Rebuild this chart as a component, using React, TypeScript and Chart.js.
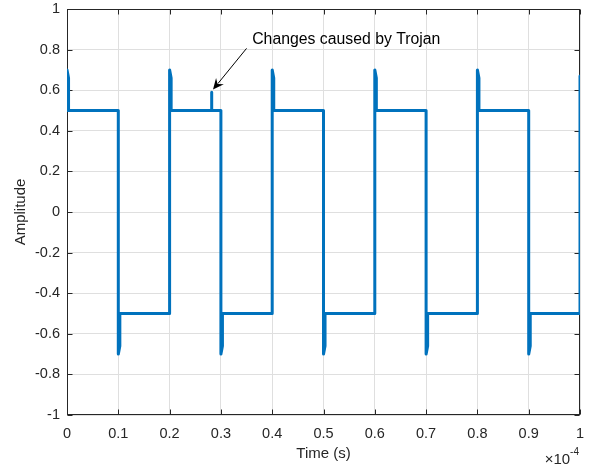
import React, { useEffect, useRef } from 'react';
import { Chart, registerables } from 'chart.js';

Chart.register(...registerables);

// Time values in units of 1e-4 s
const timeValues = [
  0, 0, 0.003, 0.003,
  0.1, 0.1, 0.103, 0.103,
  0.2, 0.2, 0.203, 0.203,
  0.282, 0.282, 0.2821,
  0.3, 0.3, 0.303, 0.303,
  0.4, 0.4, 0.403, 0.403,
  0.5, 0.5, 0.503, 0.503,
  0.6, 0.6, 0.603, 0.603,
  0.7, 0.7, 0.703, 0.703,
  0.8, 0.8, 0.803, 0.803,
  0.9, 0.9, 0.903, 0.903,
  1, 1,
];

const amplitudeValues = [
  0.5, 0.7, 0.66, 0.5,
  0.5, -0.7, -0.66, -0.5,
  -0.5, 0.7, 0.66, 0.5,
  0.5, 0.59, 0.5,
  0.5, -0.7, -0.66, -0.5,
  -0.5, 0.7, 0.66, 0.5,
  0.5, -0.7, -0.66, -0.5,
  -0.5, 0.7, 0.66, 0.5,
  0.5, -0.7, -0.66, -0.5,
  -0.5, 0.7, 0.66, 0.5,
  0.5, -0.7, -0.66, -0.5,
  -0.5, 0.67,
];

const xTickValues = [0, 0.1, 0.2, 0.3, 0.4, 0.5, 0.6, 0.7, 0.8, 0.9, 1];
const xTickLabels = ['0', '0.1', '0.2', '0.3', '0.4', '0.5', '0.6', '0.7', '0.8', '0.9', '1'];
const yTickValues = [-1, -0.8, -0.6, -0.4, -0.2, 0, 0.2, 0.4, 0.6, 0.8, 1];
const yTickLabels = ['-1', '-0.8', '-0.6', '-0.4', '-0.2', '0', '0.2', '0.4', '0.6', '0.8', '1'];

const xTitle = 'Time (s)';
const yTitle = 'Amplitude';
const exponentBase = '\u00d710';
const exponentPower = '-4';

const annotationText = 'Changes caused by Trojan';
const annotationTextAt = [0.361, 0.85];
const arrowFrom = [0.35, 0.806];
const arrowTo = [0.2846, 0.603];

const FONT = "'Liberation Sans', Arial, Helvetica, sans-serif";
const AXIS_COLOR = '#262626';
const GRID_COLOR = '#dfdfdf';
const LINE_COLOR = '#0072BD';

const zeroPadding = (scale: any) => {
  scale.paddingLeft = 0;
  scale.paddingRight = 0;
  scale.paddingTop = 0;
  scale.paddingBottom = 0;
};

const framePlugin = {
  id: 'framePlugin',
  beforeDatasetsDraw(chart: any) {
    const { ctx, chartArea: a, scales } = chart;
    const x = scales.x;
    const y = scales.y;
    const L = Math.round(a.left) + 0.5;
    const R = Math.round(a.right) - 0.5;
    const T = Math.round(a.top) + 0.5;
    const B = Math.round(a.bottom) - 0.5;
    ctx.save();
    ctx.strokeStyle = AXIS_COLOR;
    ctx.lineWidth = 1;
    ctx.beginPath();
    for (const v of xTickValues) {
      const px = Math.round(x.getPixelForValue(v)) + 0.5;
      ctx.moveTo(px, B);
      ctx.lineTo(px, B - 5);
      ctx.moveTo(px, T);
      ctx.lineTo(px, T + 5);
    }
    for (const v of yTickValues) {
      const py = Math.round(y.getPixelForValue(v)) + 0.5;
      ctx.moveTo(L, py);
      ctx.lineTo(L + 5, py);
      ctx.moveTo(R, py);
      ctx.lineTo(R - 5, py);
    }
    ctx.stroke();
    ctx.strokeRect(L, T, R - L, B - T);
    ctx.restore();
  },
  afterDatasetsDraw(chart: any) {
    const { ctx, chartArea: a, scales } = chart;
    const x = scales.x;
    const y = scales.y;
    ctx.save();
    const x0 = x.getPixelForValue(arrowFrom[0]);
    const y0 = y.getPixelForValue(arrowFrom[1]);
    const x1 = x.getPixelForValue(arrowTo[0]);
    const y1 = y.getPixelForValue(arrowTo[1]);
    const ang = Math.atan2(y1 - y0, x1 - x0);
    const hl = 11;
    const hw = 5;
    const cos = Math.cos(ang);
    const sin = Math.sin(ang);
    ctx.strokeStyle = '#000';
    ctx.lineWidth = 1;
    ctx.beginPath();
    ctx.moveTo(x0, y0);
    ctx.lineTo(x1 - cos * hl * 0.7, y1 - sin * hl * 0.7);
    ctx.stroke();
    ctx.fillStyle = '#000';
    ctx.beginPath();
    ctx.moveTo(x1, y1);
    ctx.lineTo(x1 - cos * hl - sin * hw, y1 - sin * hl + cos * hw);
    ctx.lineTo(x1 - cos * hl * 0.65, y1 - sin * hl * 0.65);
    ctx.lineTo(x1 - cos * hl + sin * hw, y1 - sin * hl - cos * hw);
    ctx.closePath();
    ctx.fill();
    ctx.font = `15.8px ${FONT}`;
    ctx.textAlign = 'left';
    ctx.textBaseline = 'middle';
    ctx.fillStyle = '#000';
    ctx.fillText(annotationText, x.getPixelForValue(annotationTextAt[0]), y.getPixelForValue(annotationTextAt[1]));
    ctx.fillStyle = AXIS_COLOR;
    ctx.textBaseline = 'alphabetic';
    ctx.textAlign = 'right';
    ctx.font = `10px ${FONT}`;
    const pw = ctx.measureText(exponentPower).width;
    const rightEdge = a.right - 1;
    ctx.fillText(exponentPower, rightEdge, 455);
    ctx.font = `15px ${FONT}`;
    ctx.fillText(exponentBase, rightEdge - pw, 464);
    ctx.restore();
  },
};

export default function App() {
  const canvasRef = useRef<HTMLCanvasElement | null>(null);

  useEffect(() => {
    const canvas = canvasRef.current;
    if (!canvas) return;
    const data = timeValues.map((t, i) => ({ x: t, y: amplitudeValues[i] }));
    const chart = new Chart(canvas, {
      type: 'line',
      data: {
        datasets: [
          {
            data,
            borderColor: LINE_COLOR,
            backgroundColor: LINE_COLOR,
            borderWidth: 3,
            pointRadius: 0,
            tension: 0,
            borderJoinStyle: 'round',
            borderCapStyle: 'round',
            fill: false,
          },
        ],
      },
      options: {
        responsive: false,
        maintainAspectRatio: false,
        animation: false,
        devicePixelRatio: 1,
        layout: { padding: { left: 0, right: 11, top: 9, bottom: 0 } },
        plugins: {
          legend: { display: false },
          tooltip: { enabled: false },
        },
        scales: {
          x: {
            type: 'linear',
            min: 0,
            max: 1,
            afterBuildTicks: (scale: any) => {
              scale.ticks = xTickValues.map((v) => ({ value: v }));
            },
            afterFit: (scale: any) => {
              scale.height = 51;
              zeroPadding(scale);
            },
            ticks: {
              autoSkip: false,
              maxRotation: 0,
              padding: 10,
              color: AXIS_COLOR,
              font: { family: FONT, size: 14.5 },
              callback: (_v: any, i: number) => xTickLabels[i],
            },
            grid: { color: GRID_COLOR, drawTicks: false, lineWidth: 1 },
            border: { display: false },
            title: {
              display: true,
              text: xTitle,
              color: AXIS_COLOR,
              font: { family: FONT, size: 15 },
              padding: { top: 0, bottom: 3 },
            },
          },
          y: {
            type: 'linear',
            min: -1,
            max: 1,
            afterBuildTicks: (scale: any) => {
              scale.ticks = yTickValues.map((v) => ({ value: v }));
            },
            afterFit: (scale: any) => {
              scale.width = 67;
              zeroPadding(scale);
            },
            ticks: {
              autoSkip: false,
              padding: 7,
              color: AXIS_COLOR,
              font: { family: FONT, size: 14.5 },
              callback: (_v: any, i: number) => yTickLabels[i],
            },
            grid: { color: GRID_COLOR, drawTicks: false, lineWidth: 1 },
            border: { display: false },
            title: {
              display: true,
              text: yTitle,
              color: AXIS_COLOR,
              font: { family: FONT, size: 15 },
              padding: { top: 12, bottom: 0 },
            },
          },
        },
      },
      plugins: [framePlugin],
    } as any);
    return () => chart.destroy();
  }, []);

  return (
    <div style={{ position: 'fixed', left: 0, top: 0, width: 591, height: 466, background: '#fff' }}>
      <canvas ref={canvasRef} width={591} height={466} style={{ display: 'block', width: 591, height: 466 }} />
    </div>
  );
}
